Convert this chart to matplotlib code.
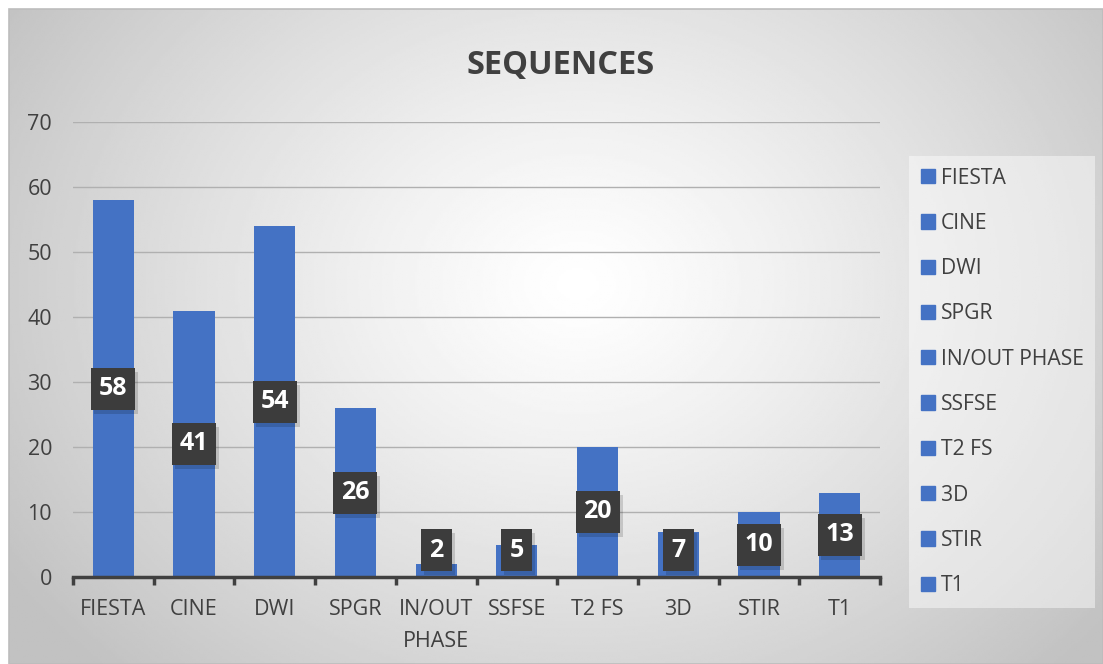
"""Bar chart of MRI sequence counts, Excel style."""
import matplotlib.pyplot as plt
import matplotlib.patches as mpatches
import matplotlib.transforms as mtransforms
import numpy as np

plt.rcParams["font.family"] = ["Open Sans", "DejaVu Sans"]

categories = ["FIESTA", "CINE", "DWI", "SPGR", "IN/OUT\nPHASE", "SSFSE",
              "T2 FS", "3D", "STIR", "T1"]
legend_labels = ["FIESTA", "CINE", "DWI", "SPGR", "IN/OUT PHASE", "SSFSE",
                 "T2 FS", "3D", "STIR", "T1"]
counts = [58, 41, 54, 26, 2, 5, 20, 7, 10, 13]
y_ticks = [0, 10, 20, 30, 40, 50, 60, 70]

BAR = "#4472C4"
TEXT = "#404040"
W, H = 1103, 664

fig = plt.figure(figsize=(W / 100, H / 100), dpi=100)
fig.patch.set_facecolor("white")

# radial gradient background inside the chart frame
bg = fig.add_axes([9 / W, 0, 1 - 9 / W, 1 - 9 / H], zorder=-10)
yy, xx = np.mgrid[0:1:300j, 0:1:500j]
d = np.sqrt((xx - 0.52) ** 2 + ((yy - 0.42) * 0.75) ** 2) / 0.62
shade = 1 - 0.24 * np.clip(d, 0, 1) ** 1.2
bg.imshow(shade, cmap="gray", vmin=0, vmax=1, aspect="auto",
          extent=[0, 1, 0, 1], origin="upper")
bg.set_axis_off()
fig.add_artist(mpatches.Rectangle((9 / W, 0), 1 - 9 / W, 1 - 9 / H,
                                  transform=fig.transFigure, fill=False,
                                  edgecolor="#bdbdbd", lw=1.2))

ax = fig.add_axes([73 / W, 87 / H, (880 - 73) / W, (577 - 122) / H])
ax.patch.set_alpha(0)

x = np.arange(len(categories))
ax.bar(x, counts, width=0.51, color=BAR, zorder=2)

ax.set_xlim(-0.5, len(categories) - 0.5)
ax.set_ylim(0, 70)
ax.set_yticks(y_ticks)
ax.yaxis.grid(True, color="#b0b0b0", lw=1, zorder=0)
ax.set_axisbelow(True)
for side in ("top", "right", "left"):
    ax.spines[side].set_visible(False)
ax.spines["bottom"].set_color(TEXT)
ax.spines["bottom"].set_linewidth(2.5)

ax.set_xticks(x)
ax.set_xticklabels(categories, fontsize=15.5, color=TEXT, linespacing=1.7)
ax.tick_params(axis="x", length=0, pad=16)
ax.set_xticks(np.arange(-0.5, len(categories)), minor=True)
ax.tick_params(axis="x", which="minor", length=6, width=2.5,
               color=TEXT, direction="out")
ax.tick_params(axis="y", length=0, pad=15, labelsize=15.5, labelcolor=TEXT)

# data labels: centred in the bar, kept clear of the axis for short bars
for xi, v in zip(x, counts):
    yc = max(v / 2, 4.1)
    anchor = fig.dpi_scale_trans + mtransforms.ScaledTranslation(
        xi, yc, ax.transData)
    bw = (0.44 if v >= 10 else 0.31)
    bh = 0.42
    ax.add_patch(mpatches.Rectangle((-bw / 2 + 0.03, -bh / 2 - 0.04), bw, bh,
                                    transform=anchor, fc="black", ec="none",
                                    alpha=0.15, zorder=3))
    ax.add_patch(mpatches.Rectangle((-bw / 2, -bh / 2), bw, bh,
                                    transform=anchor, fc="#3c3c3c",
                                    ec="none", zorder=4))
    ax.text(xi, yc, str(v), ha="center", va="center", fontsize=18,
            weight="bold", color="white", zorder=5)

fig.text(561 / W, 1 - 74 / H, "SEQUENCES", ha="center", va="baseline",
         fontsize=23.5, weight="bold", color=TEXT)

handles = [mpatches.Patch(color=BAR) for _ in legend_labels]
leg = fig.legend(handles, legend_labels, loc="upper left",
                 bbox_to_anchor=(909 / W, 1 - 156 / H), borderaxespad=0,
                 fontsize=15.2, frameon=True, fancybox=False,
                 handlelength=0.66, handleheight=0.66, handletextpad=0.3,
                 labelspacing=1.15, borderpad=0.55, labelcolor=TEXT)
leg.get_frame().set_facecolor("white")
leg.get_frame().set_alpha(0.45)
leg.get_frame().set_edgecolor("none")

fig.savefig("out.png", dpi=100)
